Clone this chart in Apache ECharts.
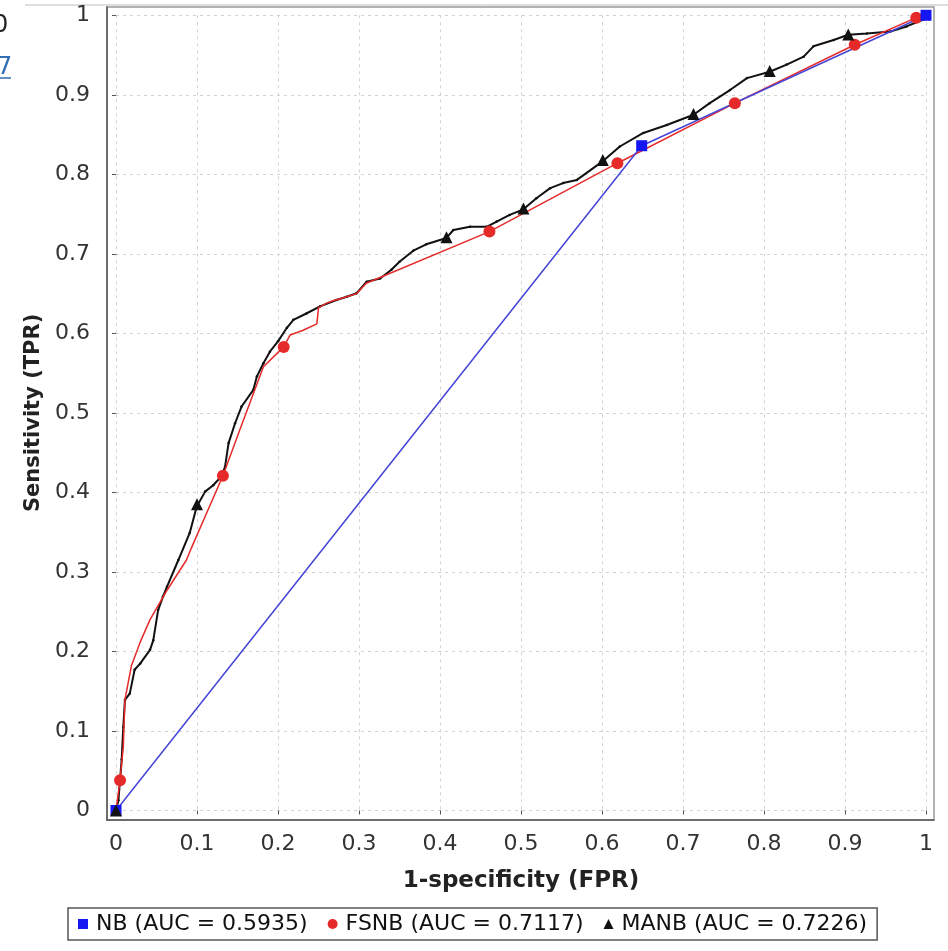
<!DOCTYPE html>
<html>
<head>
<meta charset="utf-8">
<script src="https://cdn.jsdelivr.net/npm/echarts@6/dist/echarts.min.js"></script>
<style>
html,body{margin:0;padding:0;background:#fff;}
#chart{width:948px;height:951px;}
</style>
</head>
<body>
<div id="chart"></div>
<script>
// ---------- data ----------
const xTitle = '1-specificity (FPR)';
const yTitle = 'Sensitivity (TPR)';
const seriesNames = ['NB (AUC = 0.5935)', 'FSNB (AUC = 0.7117)', 'MANB (AUC = 0.7226)'];

// NB curve
const nbFPR = [0, 0.649, 1];
const nbTPR = [0, 0.836, 1];
const nbMarkFPR = [0, 0.649, 1];
const nbMarkTPR = [0, 0.836, 1];

// FSNB curve
const fsnbFPR = [0, 0.005, 0.009, 0.011, 0.019, 0.030, 0.042, 0.063, 0.087, 0.093, 0.132, 0.153, 0.182, 0.207, 0.215, 0.231, 0.248, 0.250, 0.260, 0.268, 0.285, 0.297, 0.309, 0.461, 0.619, 0.764, 0.912, 0.988, 1];
const fsnbTPR = [0, 0.038, 0.080, 0.139, 0.182, 0.212, 0.240, 0.277, 0.315, 0.330, 0.421, 0.479, 0.558, 0.583, 0.598, 0.604, 0.612, 0.632, 0.638, 0.641, 0.646, 0.650, 0.663, 0.728, 0.814, 0.8895, 0.963, 0.997, 1];
const fsnbMarkFPR = [0.005, 0.132, 0.207, 0.461, 0.619, 0.764, 0.912, 0.988];
const fsnbMarkTPR = [0.038, 0.421, 0.583, 0.728, 0.814, 0.8895, 0.963, 0.997];

// MANB curve
const manbFPR = [0, 0.003, 0.007, 0.009, 0.011, 0.017, 0.023, 0.030, 0.042, 0.046, 0.052, 0.058, 0.063, 0.077, 0.091, 0.0996, 0.110, 0.120, 0.130, 0.1346, 0.139, 0.147, 0.155, 0.1696, 0.174, 0.182, 0.190, 0.200, 0.211, 0.219, 0.235, 0.252, 0.272, 0.285, 0.297, 0.3095, 0.326, 0.340, 0.350, 0.367, 0.383, 0.408, 0.4165, 0.437, 0.4575, 0.470, 0.486, 0.503, 0.519, 0.536, 0.552, 0.569, 0.6016, 0.622, 0.651, 0.680, 0.713, 0.733, 0.758, 0.779, 0.807, 0.828, 0.849, 0.861, 0.886, 0.904, 0.927, 0.956, 0.976, 1, 1];
const manbTPR = [0, 0.013, 0.064, 0.105, 0.139, 0.147, 0.177, 0.185, 0.202, 0.214, 0.252, 0.269, 0.2815, 0.315, 0.349, 0.382, 0.401, 0.409, 0.420, 0.432, 0.462, 0.487, 0.508, 0.529, 0.546, 0.5625, 0.577, 0.590, 0.607, 0.617, 0.625, 0.634, 0.642, 0.646, 0.6505, 0.665, 0.669, 0.680, 0.690, 0.704, 0.712, 0.720, 0.730, 0.734, 0.734, 0.7406, 0.749, 0.756, 0.770, 0.7826, 0.789, 0.793, 0.817, 0.835, 0.852, 0.862, 0.875, 0.8895, 0.906, 0.921, 0.929, 0.938, 0.948, 0.961, 0.969, 0.9755, 0.977, 0.9795, 0.986, 0.996, 1];
const manbMarkFPR = [0, 0.100, 0.408, 0.503, 0.601, 0.713, 0.807, 0.904];
const manbMarkTPR = [0, 0.385, 0.721, 0.757, 0.818, 0.876, 0.930, 0.976];

// ---------- build ----------
const pairs = (xs, ys) => xs.map((x, i) => [x, ys[i]]);
const FONT = 'DejaVu Sans';
const cBlueLine = '#4444d6', cBlue = '#1616f2', cRed = '#e62a2a', cBlack = '#111111';

const chart = echarts.init(document.getElementById('chart'), null, {renderer: 'canvas'});

const option = {
  animation: false,
  backgroundColor: '#ffffff',
  graphic: [
    {type: 'line', shape: {x1: 25, y1: 5, x2: 948, y2: 5}, style: {stroke: '#bdbdbd', lineWidth: 1}},
    {type: 'text', left: -7, top: 14, style: {text: '0', fontSize: 24, fontFamily: FONT, fill: '#222'}},
    {type: 'text', left: -3, top: 56, style: {text: '7', fontSize: 24, fontFamily: FONT, fill: '#2f6db5'}},
    {type: 'line', shape: {x1: 0, y1: 78, x2: 11, y2: 78}, style: {stroke: '#2f6db5', lineWidth: 1.5}}
  ],
  grid: [
    {left: 107, top: 7, width: 827, height: 813, show: true, borderColor: '#9a9a9a', borderWidth: 1.5, backgroundColor: '#fff'},
    {left: 116, top: 15.3, width: 810, height: 795.2}
  ],
  xAxis: [
    {gridIndex: 0, type: 'value', min: 0, max: 1, position: 'bottom', offset: 6,
     axisLine: {show: true, lineStyle: {color: '#555', width: 1.5}},
     axisTick: {show: false}, axisLabel: {show: false}, splitLine: {show: false}},
    {gridIndex: 1, type: 'value', min: 0, max: 1, interval: 0.1, position: 'bottom', offset: 15.5,
     name: xTitle, nameLocation: 'middle', nameGap: 44,
     nameTextStyle: {fontFamily: FONT, fontSize: 23, fontWeight: 'bold', color: '#222'},
     axisLine: {show: false},
     axisTick: {show: true, length: 4, lineStyle: {color: '#555', width: 1}},
     axisLabel: {show: true, margin: 7, fontFamily: FONT, fontSize: 22, color: '#333'},
     splitLine: {show: true, lineStyle: {color: '#d2d2d2', type: [3, 4], width: 1}}}
  ],
  yAxis: [
    {gridIndex: 0, type: 'value', min: 0, max: 1, position: 'left', offset: 7,
     axisLine: {show: true, lineStyle: {color: '#555', width: 1.5}},
     axisTick: {show: false}, axisLabel: {show: false}, splitLine: {show: false}},
    {gridIndex: 1, type: 'value', min: 0, max: 1, interval: 0.1, position: 'left', offset: 16,
     name: yTitle, nameLocation: 'middle', nameGap: 54, nameRotate: 90,
     nameTextStyle: {fontFamily: FONT, fontSize: 21, fontWeight: 'bold', color: '#222'},
     axisLine: {show: false},
     axisTick: {show: true, length: 4, lineStyle: {color: '#555', width: 1}},
     axisLabel: {show: true, margin: 10, fontFamily: FONT, fontSize: 22, color: '#333'},
     splitLine: {show: true, lineStyle: {color: '#d2d2d2', type: [3, 4], width: 1}}}
  ],
  legend: {
    left: 68, top: 908,
    itemWidth: 10, itemHeight: 10, itemGap: 20,
    padding: [5, 10, 5, 10],
    borderColor: '#555', borderWidth: 1.5,
    textStyle: {fontFamily: FONT, fontSize: 22, color: '#111', padding: [0, 0, 0, 3]},
    data: [
      {name: seriesNames[0], icon: 'rect', itemStyle: {color: cBlue}},
      {name: seriesNames[1], icon: 'circle', itemStyle: {color: cRed}},
      {name: seriesNames[2], icon: 'triangle', itemStyle: {color: cBlack}}
    ]
  },
  series: [
    {name: seriesNames[2], type: 'line', xAxisIndex: 1, yAxisIndex: 1, z: 2, clip: false,
     data: pairs(manbFPR, manbTPR), showSymbol: true, showAllSymbol: true, symbol: 'circle', symbolSize: 2.5,
     itemStyle: {color: cBlack}, lineStyle: {color: cBlack, width: 2}},
    {name: seriesNames[1], type: 'line', xAxisIndex: 1, yAxisIndex: 1, z: 3, clip: false,
     data: pairs(fsnbFPR, fsnbTPR), symbol: 'none',
     itemStyle: {color: cRed}, lineStyle: {color: cRed, width: 1.5}},
    {name: seriesNames[0], type: 'line', xAxisIndex: 1, yAxisIndex: 1, z: 4, clip: false,
     data: pairs(nbFPR, nbTPR), symbol: 'none',
     itemStyle: {color: cBlue}, lineStyle: {color: cBlueLine, width: 1.5}},
    {name: 'FSNB markers', type: 'scatter', xAxisIndex: 1, yAxisIndex: 1, z: 5, clip: false,
     data: pairs(fsnbMarkFPR, fsnbMarkTPR), symbol: 'circle', symbolSize: 12, itemStyle: {color: cRed, opacity: 1}},
    {name: 'NB markers', type: 'scatter', xAxisIndex: 1, yAxisIndex: 1, z: 6, clip: false,
     data: pairs(nbMarkFPR, nbMarkTPR), symbol: 'rect', symbolSize: 11, itemStyle: {color: cBlue, opacity: 1}},
    {name: 'MANB markers', type: 'scatter', xAxisIndex: 1, yAxisIndex: 1, z: 7, clip: false,
     data: pairs(manbMarkFPR, manbMarkTPR), symbol: 'triangle', symbolSize: 12, itemStyle: {color: cBlack, opacity: 1}}
  ]
};
chart.setOption(option);
</script>
</body>
</html>
